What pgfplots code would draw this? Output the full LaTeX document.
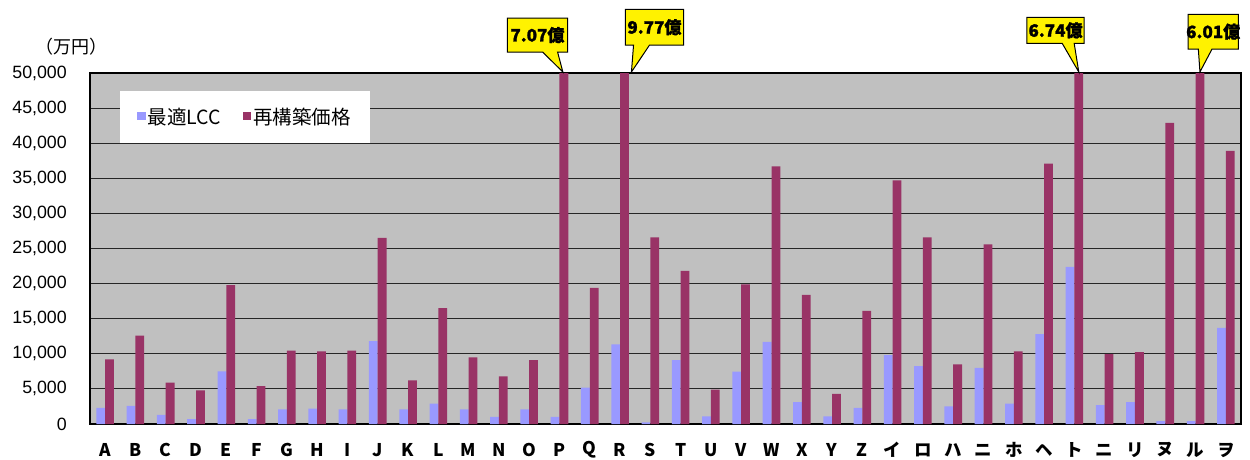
\documentclass[border=0pt]{standalone}
\usepackage{fontspec}
\setmainfont{Liberation Sans}
\newfontfamily\cjk{Noto Sans CJK JP}
\newfontfamily\cjkheavy[FakeBold=1.3]{Noto Sans CJK JP}
\usepackage{pgfplots}
\usepackage{pgfplotstable}
\pgfplotsset{compat=1.18}
\definecolor{lcc}{HTML}{9999FF}
\definecolor{rep}{HTML}{993366}
\definecolor{bg}{HTML}{C0C0C0}
\pgfplotstableread{
x lcc rep
0 2300 9200
1 2600 12600
2 1300 5900
3 700 4800
4 7500 19800
5 700 5400
6 2100 10450
7 2200 10350
8 2100 10450
9 11800 26500
10 2100 6200
11 2900 16500
12 2100 9500
13 1000 6800
14 2100 9100
15 1000 70700
16 5200 19400
17 11350 97700
18 250 26600
19 9100 21800
20 1100 4900
21 7450 19900
22 11700 36700
23 3100 18400
24 1100 4300
25 2300 16100
26 9800 34700
27 8250 26600
28 2500 8500
29 8000 25600
30 2900 10350
31 12800 37100
32 22400 67400
33 2700 9950
34 3100 10250
35 400 42900
36 400 60100
37 13700 38900
}\data
\newcommand\callout[9]{%
  \draw[fill=yellow, line width=1pt, line join=miter]
    ([xshift=#3pt,yshift=#5pt]#1) -- ([xshift=#4pt,yshift=#5pt]#1) --
    ([xshift=#4pt,yshift=#6pt]#1) -- ([xshift=#8pt,yshift=#6pt]#1) --
    ([xshift=#2pt,yshift=1pt]#1) -- ([xshift=#7pt,yshift=#6pt]#1) --
    ([xshift=#3pt,yshift=#6pt]#1) -- cycle;
  \node[font=\cjkheavy\bfseries\fontsize{17}{19}\selectfont, inner sep=0pt]
    at ([xshift={(#3+#4)/2*1pt}, yshift={(#5+#6)/2*1pt}]#1) {#9};
}
\begin{document}
\begin{tikzpicture}[x=1pt,y=1pt]
\path[use as bounding box] (0,0) rectangle (1250,459);
\begin{axis}[
  at={(90pt,35pt)}, anchor=south west,
  scale only axis, width=1151pt, height=351pt,
  xmin=-0.5, xmax=37.5, ymin=0, ymax=50000,
  ybar, bar width=0.29,
  axis background/.style={fill=bg},
  axis line style={line width=1.5pt, black},
  ymajorgrids, grid style={black!85, line width=1pt},
  major tick length=0pt,
  xtick={0,...,37},
  xticklabels={A,B,C,D,E,F,G,H,I,J,K,L,M,N,O,P,Q,R,S,T,U,V,W,X,Y,Z,イ,ロ,ハ,ニ,ホ,ヘ,ト,ニ,リ,ヌ,ル,ヲ},
  xticklabel style={font=\cjk\bfseries\fontsize{17.5}{20}\selectfont, anchor=center, inner sep=0pt, yshift=-26pt},
  ytick={0,5000,...,50000},
  scaled y ticks=false,
  yticklabel style={font=\fontsize{17.8}{20}\selectfont, anchor=east, inner sep=0pt, xshift=-23pt},
  /pgf/number format/.cd, 1000 sep={,}, fixed, assume math mode=true,
  /pgfplots/.cd,
  legend style={at={(0.026,0.9487)}, anchor=north west, draw=none, fill=white,
    font=\cjk\fontsize{19.5}{21}\selectfont, inner xsep=17pt, inner ysep=15pt,
    /tikz/every even column/.append style={column sep=20pt}},
  legend columns=2,
]
\addplot[fill=lcc, draw=none, bar shift=-0.145,
  legend image code/.code={\fill[lcc] (0pt,-3pt) rectangle (8.5pt,5.5pt);}] table[x=x,y=lcc] {\data};
\addplot[fill=rep, draw=none, bar shift=0.145,
  legend image code/.code={\fill[rep] (0pt,-3pt) rectangle (8.5pt,5.5pt);}] table[x=x,y=rep] {\data};
\legend{最適LCC,再構築価格}
\coordinate (c1) at (axis cs:15.145,50000);
\coordinate (c2) at (axis cs:17.145,50000);
\coordinate (c3) at (axis cs:32.145,50000);
\coordinate (c4) at (axis cs:36.145,50000);
\end{axis}
\callout{c1}{-1}{-56.6}{3.7}{55}{21}{-21.3}{-6.3}{7.07億}
\callout{c2}{7}{0.8}{59.1}{63.7}{28}{9.1}{25.1}{9.77億}
\callout{c3}{0}{-51.9}{5.4}{55.7}{29.7}{-16.6}{-4.6}{6.74億}
\callout{c4}{0}{-11.9}{38.4}{58.7}{24}{-1.6}{12.1}{6.01億}
\node[font=\cjk\fontsize{18}{20}\selectfont, inner sep=0pt] at (71.5,412) {（万円）};
\end{tikzpicture}
\end{document}
